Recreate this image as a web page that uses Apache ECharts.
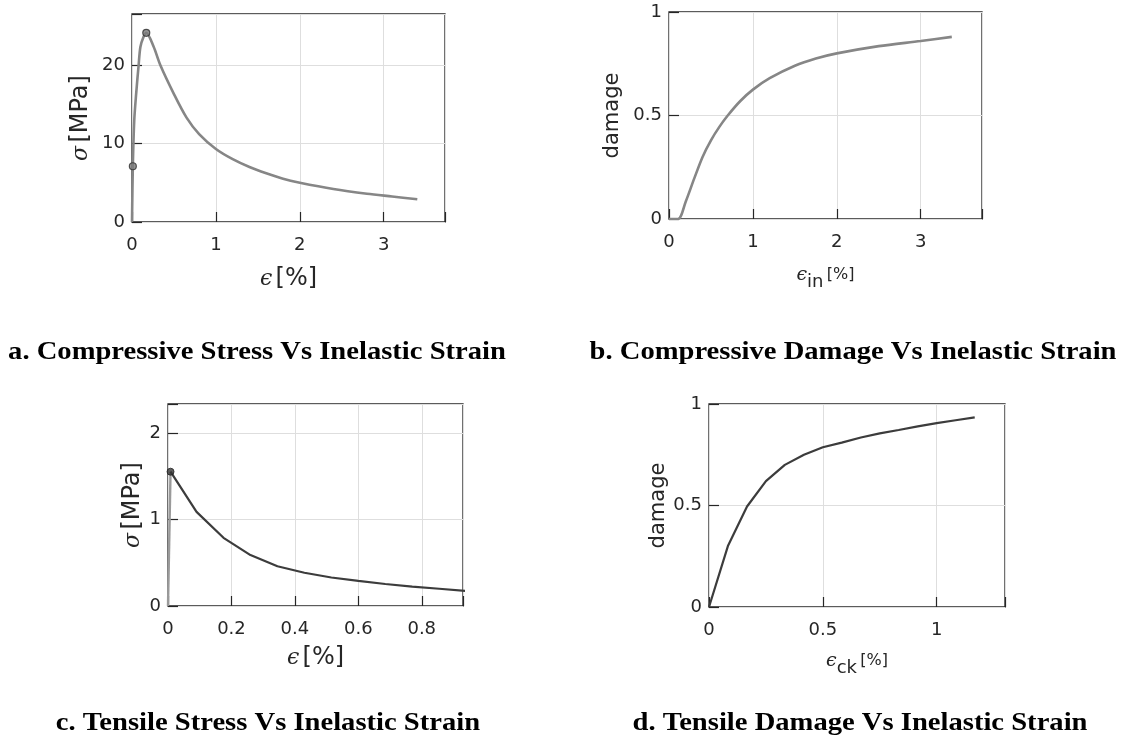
<!DOCTYPE html>
<html>
<head>
<meta charset="utf-8">
<title>Concrete damage plasticity curves</title>
<script src="https://cdn.jsdelivr.net/npm/echarts@6/dist/echarts.min.js"></script>
<style>
  html, body { margin: 0; padding: 0; background: #ffffff; }
  #chart { width: 1122px; height: 740px; }
</style>
</head>
<body>
<div id="chart"></div>
<script>
// (a) compressive stress vs inelastic strain
const compStrain = [0, 0.01, 0.027, 0.05, 0.079, 0.1, 0.138, 0.17, 0.257, 0.337, 0.5, 0.65, 0.8, 1.0, 1.2, 1.4, 1.6, 1.8, 2.0, 2.4, 2.8, 3.1, 3.4];
const compStress = [0, 7.1, 13, 16.4, 20, 22.3, 23.6, 24.1, 22.35, 20, 16.3, 13.3, 11.2, 9.3, 8.0, 7.0, 6.2, 5.5, 5.0, 4.2, 3.6, 3.25, 2.9];
const compKeyIndex = [1, 7];

// (b) compressive damage vs inelastic strain
const compDmgStrain = [0, 0.107, 0.2, 0.3, 0.4, 0.5, 0.6, 0.7, 0.85, 1.0, 1.2, 1.5, 1.75, 2.0, 2.5, 3.0, 3.37];
const compDamage = [0, 0, 0.085, 0.195, 0.3, 0.38, 0.445, 0.5, 0.57, 0.625, 0.68, 0.74, 0.775, 0.8, 0.835, 0.86, 0.88];

// (c) tensile stress vs cracking strain
const tensElasticStrain = [0, 0.008];
const tensElasticStress = [0, 1.556];
const tensStrain = [0.008, 0.09, 0.175, 0.26, 0.345, 0.43, 0.515, 0.6, 0.685, 0.77, 0.855, 0.94];
const tensStress = [1.556, 1.09, 0.79, 0.59, 0.46, 0.385, 0.33, 0.29, 0.255, 0.225, 0.2, 0.175];

// (d) tensile damage vs cracking strain
const tensDmgStrain = [0, 0.083, 0.167, 0.25, 0.333, 0.417, 0.5, 0.583, 0.667, 0.75, 0.833, 0.917, 1.0, 1.083, 1.167];
const tensDamage = [0, 0.30, 0.495, 0.62, 0.70, 0.75, 0.787, 0.81, 0.835, 0.855, 0.872, 0.89, 0.906, 0.92, 0.934];

// axis ranges and tick steps
const axisA = { xMax: 3.73, xStep: 1, yMax: 26.5, yStep: 10 };
const axisB = { xMax: 3.73, xStep: 1, yMax: 1, yStep: 0.5 };
const axisC = { xMax: 0.93, xStep: 0.2, yMax: 2.34, yStep: 1 };
const axisD = { xMax: 1.3, xStep: 0.5, yMax: 1, yStep: 0.5 };

const captions = [
  'a. Compressive Stress Vs Inelastic Strain',
  'b. Compressive Damage Vs Inelastic Strain',
  'c. Tensile Stress Vs Inelastic Strain',
  'd. Tensile Damage Vs Inelastic Strain'
];

const pairs = (xs, ys) => xs.map((x, i) => [x, ys[i]]);

const INK = '#262626';
const GRIDC = '#dedede';
const tickFont = { fontFamily: 'DejaVu Sans', fontSize: 18, color: INK };

function makeRich(size) {
  return {
    g: { fontFamily: 'DejaVu Serif', fontStyle: 'italic', fontSize: size - 2, color: INK },
    t: { fontFamily: 'DejaVu Sans', fontSize: size, color: INK },
    s: { fontFamily: 'DejaVu Sans', fontSize: 18, color: INK, padding: [14, 0, 0, 0] },
    u: { fontFamily: 'DejaVu Sans', fontSize: 16, color: INK }
  };
}

const grids = [
  { left: 132, top: 14, width: 313, height: 208 },
  { left: 669, top: 12, width: 313, height: 207 },
  { left: 168, top: 404, width: 295, height: 202 },
  { left: 709, top: 404, width: 296, height: 203 }
].map(g => Object.assign({ show: true, borderColor: INK, borderWidth: 1.3, backgroundColor: 'transparent', containLabel: false }, g));

const xAxes = [];
const yAxes = [];
const onStep = (max, step) => Math.abs(max / step - Math.round(max / step)) < 1e-9;

// each panel: one labelled axis per direction plus inward tick marks on all four sides
function tickAxis(gi, max, step, position) {
  return {
    type: 'value', gridIndex: gi, min: 0, max: max, interval: step,
    position: position, offset: -5,
    axisLine: { show: false },
    axisTick: { show: true, inside: false, length: 5, lineStyle: { color: INK, width: 1.2 } },
    axisLabel: { show: false }, splitLine: { show: false }
  };
}

function addAxes(gi, ax, xName, yName, xGap, yGap, nameSize) {
  const rich = makeRich(nameSize);
  xAxes.push({
    type: 'value', gridIndex: gi, min: 0, max: ax.xMax, interval: ax.xStep, position: 'bottom',
    name: xName, nameLocation: 'middle', nameGap: xGap,
    nameTextStyle: { rich: rich },
    axisLine: { show: false }, axisTick: { show: false },
    axisLabel: Object.assign({ margin: 14, showMaxLabel: onStep(ax.xMax, ax.xStep) }, tickFont),
    splitLine: { show: true, lineStyle: { color: GRIDC, width: 1 } }
  });
  xAxes.push(tickAxis(gi, ax.xMax, ax.xStep, 'bottom'));
  xAxes.push(tickAxis(gi, ax.xMax, ax.xStep, 'top'));
  yAxes.push({
    type: 'value', gridIndex: gi, min: 0, max: ax.yMax, interval: ax.yStep, position: 'left',
    name: yName, nameLocation: 'middle', nameGap: yGap, nameRotate: 90,
    nameTextStyle: { rich: rich },
    axisLine: { show: false }, axisTick: { show: false },
    axisLabel: Object.assign({ margin: 7, showMaxLabel: onStep(ax.yMax, ax.yStep) }, tickFont),
    splitLine: { show: true, lineStyle: { color: GRIDC, width: 1 } }
  });
  yAxes.push(tickAxis(gi, ax.yMax, ax.yStep, 'left'));
  yAxes.push(tickAxis(gi, ax.yMax, ax.yStep, 'right'));
}

addAxes(0, axisA, '{g|ϵ} {t|[%]}', '{g|σ} {t|[MPa]}', 45, 39, 24);
addAxes(1, axisB, '{g|ϵ}{s|in} {u|[%]}', '{t|damage}', 40, 46, 21);
addAxes(2, axisC, '{g|ϵ} {t|[%]}', '{g|σ} {t|[MPa]}', 40, 23, 24);
addAxes(3, axisD, '{g|ϵ}{s|ck} {u|[%]}', '{t|damage}', 38, 39, 21);

const GRAY = '#868686';
const DARK = '#3c3c3c';

const series = [
  {
    type: 'line', xAxisIndex: 0, yAxisIndex: 0, data: pairs(compStrain, compStress),
    showSymbol: false, symbol: 'none', smooth: 0.3, lineStyle: { color: GRAY, width: 2.6 }, z: 3
  },
  {
    type: 'scatter', xAxisIndex: 0, yAxisIndex: 0,
    data: compKeyIndex.map(i => [compStrain[i], compStress[i]]),
    symbol: 'circle', symbolSize: 7,
    itemStyle: { color: '#7a7a7a', borderColor: '#2e2e2e', borderWidth: 1.2 }, z: 4
  },
  {
    type: 'line', xAxisIndex: 3, yAxisIndex: 3, data: pairs(compDmgStrain, compDamage),
    showSymbol: false, symbol: 'none', smooth: 0.3, lineStyle: { color: GRAY, width: 2.6 }, z: 3
  },
  {
    type: 'line', xAxisIndex: 6, yAxisIndex: 6, data: pairs(tensElasticStrain, tensElasticStress),
    showSymbol: false, symbol: 'none', lineStyle: { color: '#9a9a9a', width: 2.4 }, z: 3
  },
  {
    type: 'line', xAxisIndex: 6, yAxisIndex: 6, data: pairs(tensStrain, tensStress),
    showSymbol: false, symbol: 'none', lineStyle: { color: DARK, width: 2.2 }, z: 3
  },
  {
    type: 'scatter', xAxisIndex: 6, yAxisIndex: 6,
    data: [[tensStrain[0], tensStress[0]]],
    symbol: 'circle', symbolSize: 7,
    itemStyle: { color: '#333333', borderColor: '#222222', borderWidth: 1 }, z: 4
  },
  {
    type: 'line', xAxisIndex: 9, yAxisIndex: 9, data: pairs(tensDmgStrain, tensDamage),
    showSymbol: false, symbol: 'none', lineStyle: { color: DARK, width: 2.2 }, z: 3
  }
];

// captions: bold serif, slightly widened
const captionPos = [[257, 352], [853, 352], [268, 723], [860, 723]];
const graphic = captions.map((text, i) => ({
  type: 'text', x: captionPos[i][0], y: captionPos[i][1], scaleX: 1.1,
  style: {
    text: text, fill: '#000000',
    font: 'bold 26px "Liberation Serif"',
    align: 'center', verticalAlign: 'middle',
    textAlign: 'center', textVerticalAlign: 'middle'
  }
}));

const chart = echarts.init(document.getElementById('chart'), null, { renderer: 'canvas' });
chart.setOption({
  animation: false,
  backgroundColor: '#ffffff',
  grid: grids,
  xAxis: xAxes,
  yAxis: yAxes,
  series: series,
  graphic: graphic
});
</script>
</body>
</html>
